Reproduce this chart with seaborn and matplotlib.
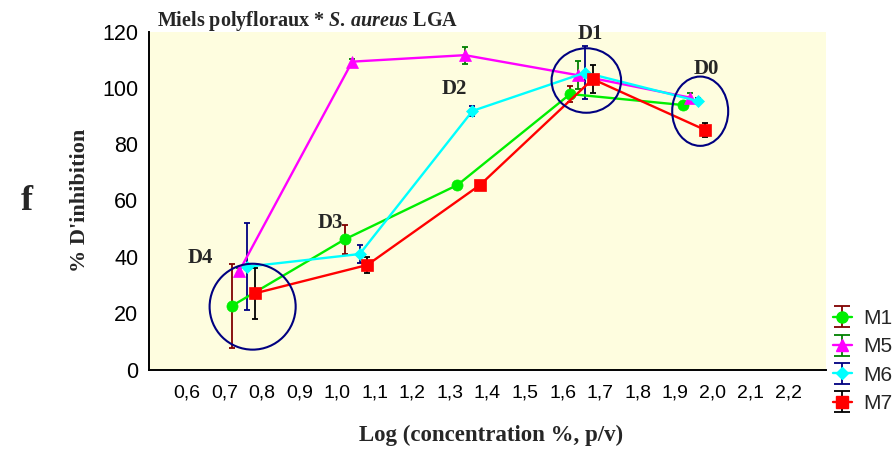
import numpy as np
import pandas as pd
import matplotlib
matplotlib.use("Agg")
import matplotlib.pyplot as plt
import seaborn as sns
from matplotlib.lines import Line2D
from matplotlib.collections import LineCollection
from matplotlib.container import ErrorbarContainer
from matplotlib.patches import Ellipse
from matplotlib import font_manager

# ---------------- data ----------------
series = ["M1", "M5", "M6", "M7"]
dose_labels = ["D4", "D3", "D2", "D1", "D0"]

x_m1 = [0.72, 1.02, 1.32, 1.62, 1.92]
x_m5 = [0.74, 1.04, 1.34, 1.64, 1.94]
x_m6 = [0.76, 1.06, 1.36, 1.66, 1.96]
x_m7 = [0.78, 1.08, 1.38, 1.68, 1.98]

y_m1 = [22.6, 46.2, 65.5, 97.8, 93.9]
y_m5 = [35.1, 109.3, 111.6, 104.5, 96.5]
y_m6 = [36.5, 41.0, 91.8, 105.4, 95.3]
y_m7 = [27.0, 37.1, 65.5, 103.1, 85.0]

e_m1 = [14.9, 5.2, 1.0, 3.0, 1.0]
e_m5 = [1.0, 1.0, 3.0, 5.0, 1.5]
e_m6 = [15.5, 3.2, 1.8, 9.4, 1.0]
e_m7 = [9.2, 2.8, 1.0, 4.9, 2.6]

x_ticks = [0.6, 0.7, 0.8, 0.9, 1.0, 1.1, 1.2, 1.3, 1.4, 1.5, 1.6, 1.7, 1.8, 1.9, 2.0, 2.1, 2.2]
x_tick_labels = ["0,6", "0,7", "0,8", "0,9", "1,0", "1,1", "1,2", "1,3", "1,4",
                 "1,5", "1,6", "1,7", "1,8", "1,9", "2,0", "2,1", "2,2"]
y_ticks = [0, 20, 40, 60, 80, 100, 120]

# dose annotation labels (text position) and grouping ellipses (centre, width, height)
ann_text = ["D4", "D3", "D2", "D1", "D0"]
ann_x = [0.635, 0.981, 1.313, 1.673, 1.981]
ann_y = [39.5, 52.1, 99.5, 119.0, 106.6]
ell_cx = [0.775, 1.663, 1.966]
ell_cy = [22.3, 102.6, 91.7]
ell_w = [0.229, 0.185, 0.149]
ell_h = [30.5, 22.9, 24.6]

title_plain = "Miels polyfloraux * "
title_italic = "S.\\,aureus"
title_end = " LGA"
x_label = "Log (concentration %, p/v)"
y_label = "% D'inhibition"
panel_letter = "f"

# ---------------- style ----------------
line_colors = {"M1": "#00EE00", "M5": "#FF00FF", "M6": "#00FFFF", "M7": "#FF0000"}
err_colors = {"M1": "#800000", "M5": "#008000", "M6": "#000080", "M7": "#000000"}
markers = {"M1": "o", "M5": "^", "M6": "D", "M7": "s"}
msizes = {"M1": 8, "M5": 8, "M6": 6.5, "M7": 8}

sns.set_style("white")
available = {f.name for f in font_manager.fontManager.ttflist}
sans = "Liberation Sans Narrow" if "Liberation Sans Narrow" in available else "Liberation Sans"
serif = "Liberation Serif"
plt.rcParams["font.family"] = [sans, "DejaVu Sans"]
plt.rcParams["mathtext.fontset"] = "custom"
plt.rcParams["mathtext.rm"] = "Liberation Serif:bold"
plt.rcParams["mathtext.it"] = "Liberation Serif:bold:italic"
plt.rcParams["mathtext.bf"] = "Liberation Serif:bold"

xs = {"M1": x_m1, "M5": x_m5, "M6": x_m6, "M7": x_m7}
ys = {"M1": y_m1, "M5": y_m5, "M6": y_m6, "M7": y_m7}
es = {"M1": e_m1, "M5": e_m5, "M6": e_m6, "M7": e_m7}

df = pd.concat([
    pd.DataFrame({"series": s, "dose": dose_labels, "x": xs[s], "y": ys[s], "err": es[s]})
    for s in series
], ignore_index=True)

fig = plt.figure(figsize=(8.95, 4.5), dpi=100)
fig.patch.set_facecolor("white")
ax = fig.add_axes([149.3 / 895, (450 - 369.5) / 450, 676.4 / 895, 338 / 450])
ax.set_facecolor("#FEFDDF")

sns.lineplot(data=df, x="x", y="y", hue="series", style="series", hue_order=series,
             style_order=series, palette=line_colors, markers=markers, dashes=False,
             sort=False, estimator=None, errorbar=None, linewidth=1.7,
             markersize=8, legend=False, ax=ax, zorder=3)
for line, s in zip(ax.lines, series):
    line.set_markeredgecolor(line_colors[s])
    line.set_markeredgewidth(0.5)
    line.set_markersize(msizes[s])

handles = []
for s in series:
    sub = df[df.series == s]
    cont = ax.errorbar(sub["x"], sub["y"], yerr=sub["err"], fmt="none",
                       ecolor=err_colors[s], elinewidth=1.3, capsize=2,
                       capthick=1.3, zorder=2)
    proxy_line = Line2D([], [], color=line_colors[s], marker=markers[s],
                        markersize=msizes[s], linewidth=1.7,
                        markeredgecolor=line_colors[s])
    proxy_cap = Line2D([], [], color=err_colors[s], marker="_", markersize=11,
                       markeredgewidth=1.3, linestyle="none")
    proxy_bar = LineCollection([], colors=[err_colors[s]], linewidths=1.3)
    handles.append(ErrorbarContainer((proxy_line, (proxy_cap,), (proxy_bar,)),
                                     has_xerr=False, has_yerr=True, label=s))

for cx, cy, w, h in zip(ell_cx, ell_cy, ell_w, ell_h):
    ax.add_patch(Ellipse((cx, cy), w, h, fill=False, edgecolor="#000080",
                         linewidth=1.5, zorder=5))

for t, tx, ty in zip(ann_text, ann_x, ann_y):
    ax.text(tx, ty, t, family=serif, fontweight="bold", fontsize=15,
            ha="center", va="center", zorder=6)

ax.set_xlim(0.5, 2.3)
ax.set_ylim(0, 120)
ax.set_xticks(x_ticks)
ax.set_xticklabels(x_tick_labels)
ax.set_xticks([2.3], minor=True)
ax.set_yticks(y_ticks)
ax.set_yticklabels([str(v) for v in y_ticks])
ax.tick_params(axis="x", which="both", direction="in", length=3.5, width=1.2,
               pad=11, labelsize=14, colors="black")
ax.tick_params(axis="y", length=0, pad=8, labelsize=15.5, colors="black")

for side in ["top", "right"]:
    ax.spines[side].set_visible(False)
for side in ["left", "bottom"]:
    ax.spines[side].set_color("black")
    ax.spines[side].set_linewidth(1.4)

ax.set_xlabel(x_label, family=serif, fontweight="bold", fontsize=16.5)
ax.xaxis.label.set_va("center")
ax.xaxis.set_label_coords(0.506, -0.194)
ax.set_ylabel(y_label, family=serif, fontweight="bold", fontsize=16)
ax.yaxis.label.set_va("center")
ax.yaxis.set_label_coords(-0.1025, 0.5)

ax.text(0.012, 1.017, title_plain + "$\\mathit{" + title_italic + "}$" + title_end,
        transform=ax.transAxes, family=serif, fontweight="bold", fontsize=14.5,
        ha="left", va="baseline")

fig.text(27 / 895, 1 - 202 / 450, panel_letter, family=serif, fontweight="bold",
         fontsize=26, ha="center", va="center")

leg = fig.legend(handles=handles, loc="upper left",
                 bbox_to_anchor=(833 / 895, 1 - 309 / 450), frameon=False,
                 fontsize=15, handlelength=0.9, handletextpad=0.55,
                 labelspacing=0.45, borderpad=0, borderaxespad=0)

fig.savefig("out.png", dpi=100)
